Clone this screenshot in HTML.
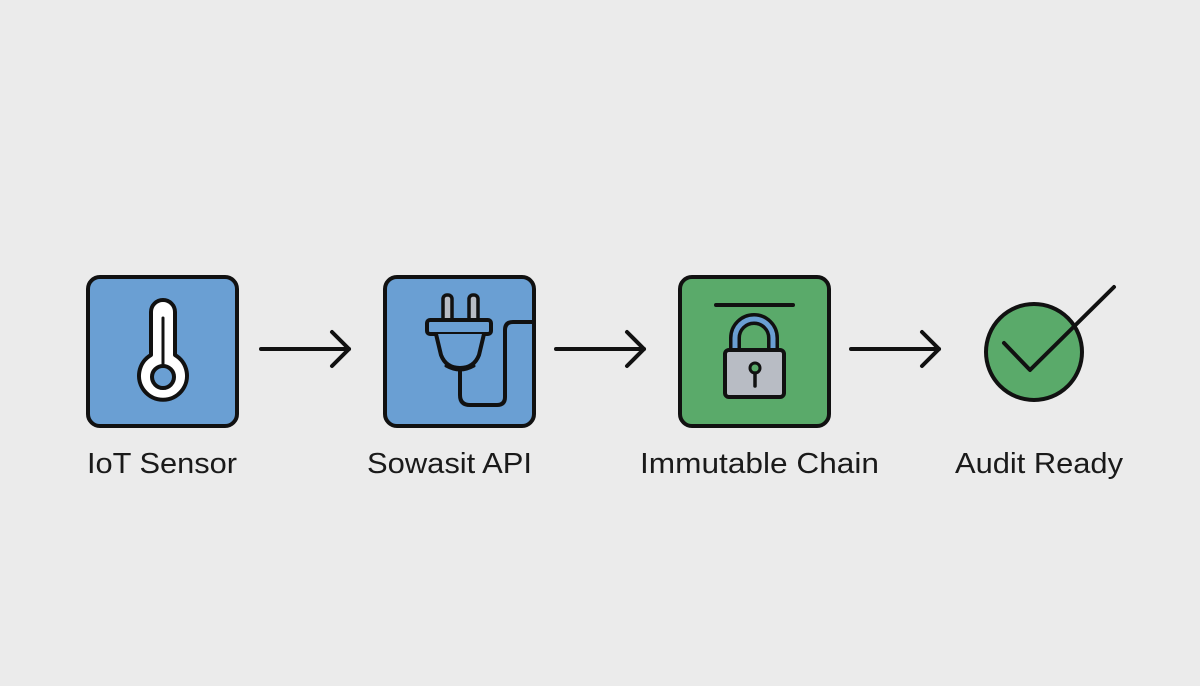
<!DOCTYPE html>
<html><head><style>
body{margin:0;background:#ebebeb;}
svg{display:block}
text{font-family:"Liberation Sans",sans-serif;font-size:29px;fill:#1a1a1a}
</style></head><body>
<svg width="1200" height="686" viewBox="0 0 1200 686">
<rect width="1200" height="686" fill="#ebebeb"/>
<g stroke="#111" stroke-width="4" stroke-linecap="round" stroke-linejoin="round">
<rect x="88" y="277" width="149" height="149" rx="12" fill="#6a9fd3"/>
<rect x="385" y="277" width="149" height="149" rx="12" fill="#6a9fd3"/>
<rect x="680" y="277" width="149" height="149" rx="12" fill="#5aaa6a"/>
<!-- thermometer -->
<path d="M151 312 a12 12 0 0 1 24 0 V355 a24 24 0 1 1 -24 0 Z" fill="#fff"/>
<circle cx="163" cy="377" r="11" fill="#6a9fd3"/>
<line x1="163" y1="318" x2="163" y2="364" stroke-width="3"/>
<!-- plug -->
<rect x="443" y="295" width="9" height="27" rx="4" fill="#b8bcc4" stroke-width="3.5"/>
<rect x="469" y="295" width="9" height="27" rx="4" fill="#b8bcc4" stroke-width="3.5"/>
<rect x="427" y="320" width="64" height="14" rx="3" fill="#6a9fd3"/>
<path d="M436 334 L441 355 Q446 368 460 368 Q474 368 479 355 L484 334" fill="#6a9fd3"/>
<path d="M446 366 Q460 374 474 366" fill="none" stroke-width="3"/>
<path d="M460 370 V395 Q460 405 470 405 H497 Q505 405 505 397 V330 Q505 322 513 322 H533" fill="none"/>
<!-- lock -->
<line x1="716" y1="305" x2="793" y2="305"/>
<path d="M735 350 V338 a19 19 0 0 1 38 0 V350" fill="none" stroke="#111" stroke-width="12"/>
<path d="M735 350 V338 a19 19 0 0 1 38 0 V350" fill="none" stroke="#6a9fd3" stroke-width="5"/>
<rect x="725" y="350" width="59" height="47" rx="4" fill="#b8bcc4"/>
<circle cx="755" cy="368" r="5" fill="#5aaa6a" stroke-width="3"/>
<line x1="755" y1="373" x2="755" y2="386" stroke-width="3.5"/>
<!-- check -->
<circle cx="1034" cy="352" r="48" fill="#5aaa6a"/>
<polyline points="1004,343 1030,370 1114,287" fill="none"/>
<!-- arrows -->
<g fill="none">
<line x1="261" y1="349" x2="349" y2="349"/><polyline points="332,332 349,349 332,366"/>
<line x1="556" y1="349" x2="644" y2="349"/><polyline points="627,332 644,349 627,366"/>
<line x1="851" y1="349" x2="939" y2="349"/><polyline points="922,332 939,349 922,366"/>
</g>
</g>
<text x="87" y="473" textLength="150" lengthAdjust="spacingAndGlyphs">IoT Sensor</text>
<text x="367" y="473" textLength="165" lengthAdjust="spacingAndGlyphs">Sowasit API</text>
<text x="640" y="473" textLength="239" lengthAdjust="spacingAndGlyphs">Immutable Chain</text>
<text x="955" y="473" textLength="168" lengthAdjust="spacingAndGlyphs">Audit Ready</text>
</svg>
</body></html>
